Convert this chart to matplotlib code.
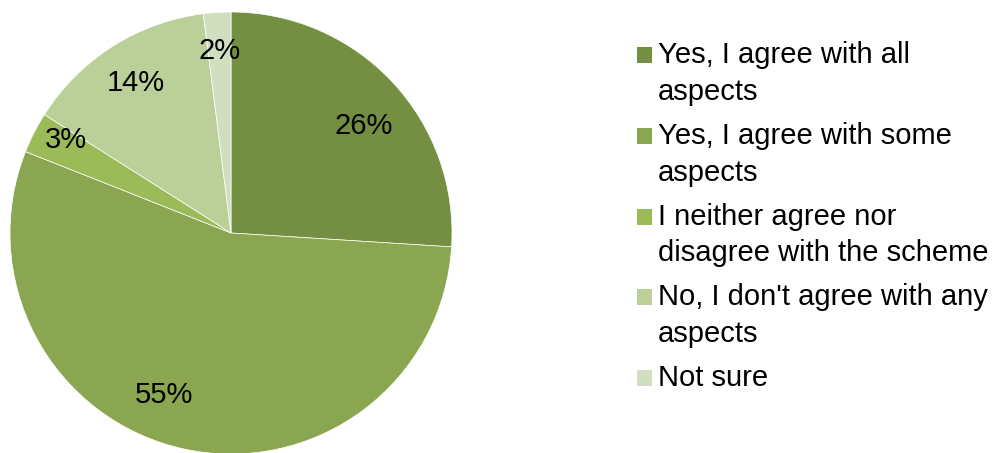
import numpy as np
import matplotlib.pyplot as plt
from matplotlib.patches import Rectangle

labels = ["Yes, I agree with all\naspects",
          "Yes, I agree with some\naspects",
          "I neither agree nor\ndisagree with the scheme",
          "No, I don't agree with any\naspects",
          "Not sure"]
shares = [26, 55, 3, 14, 2]
colors = ["#758F42", "#8AA650", "#9BBB59", "#BBCF99", "#D1DFC0"]

# label placement (Excel "best fit" look): radial distance and angle nudge
label_dist = [0.78, 0.78, 0.864, 0.815, 0.84]
label_nudge = [-3.4, -10.2, -3.2, -0.6, -0.2]

W, H = 998, 453
fig = plt.figure(figsize=(W / 100, H / 100), dpi=100)
plt.rcParams['font.family'] = ['Liberation Sans', 'DejaVu Sans']
FS = 21

# pie: centre ~(231, 233) px, radius ~221 px
cx, cy, r = 231, 233, 221
ax = fig.add_axes([(cx - r) / W, (H - cy - r) / H, 2 * r / W, 2 * r / H])
wedges, texts = ax.pie(
    shares, colors=colors, startangle=90, counterclock=False, radius=1,
    wedgeprops=dict(edgecolor='white', linewidth=0.5))
for w, s, d, n in zip(wedges, shares, label_dist, label_nudge):
    ang = np.deg2rad((w.theta1 + w.theta2) / 2 + n)
    ax.text(d * np.cos(ang), d * np.sin(ang), f"{s}%", fontsize=FS,
            ha='center', va='center_baseline', color='black')
ax.set_xlim(-1, 1)
ax.set_ylim(-1, 1)
ax.set_aspect('equal')
ax.axis('off')

# legend drawn by hand so the square lines up with the first text line
leg_top = 45
leg_step = 80.8
for i, (lab, col) in enumerate(zip(labels, colors)):
    y = leg_top + i * leg_step
    fig.add_artist(Rectangle((637 / W, 1 - (y + 18) / H), 15 / W, 16 / H,
                             transform=fig.transFigure, facecolor=col, edgecolor='none'))
    fig.text(658 / W, 1 - (y - 4) / H, lab, fontsize=FS, va='top', ha='left',
             linespacing=1.4, color='black')

fig.savefig('out.png', dpi=100)
